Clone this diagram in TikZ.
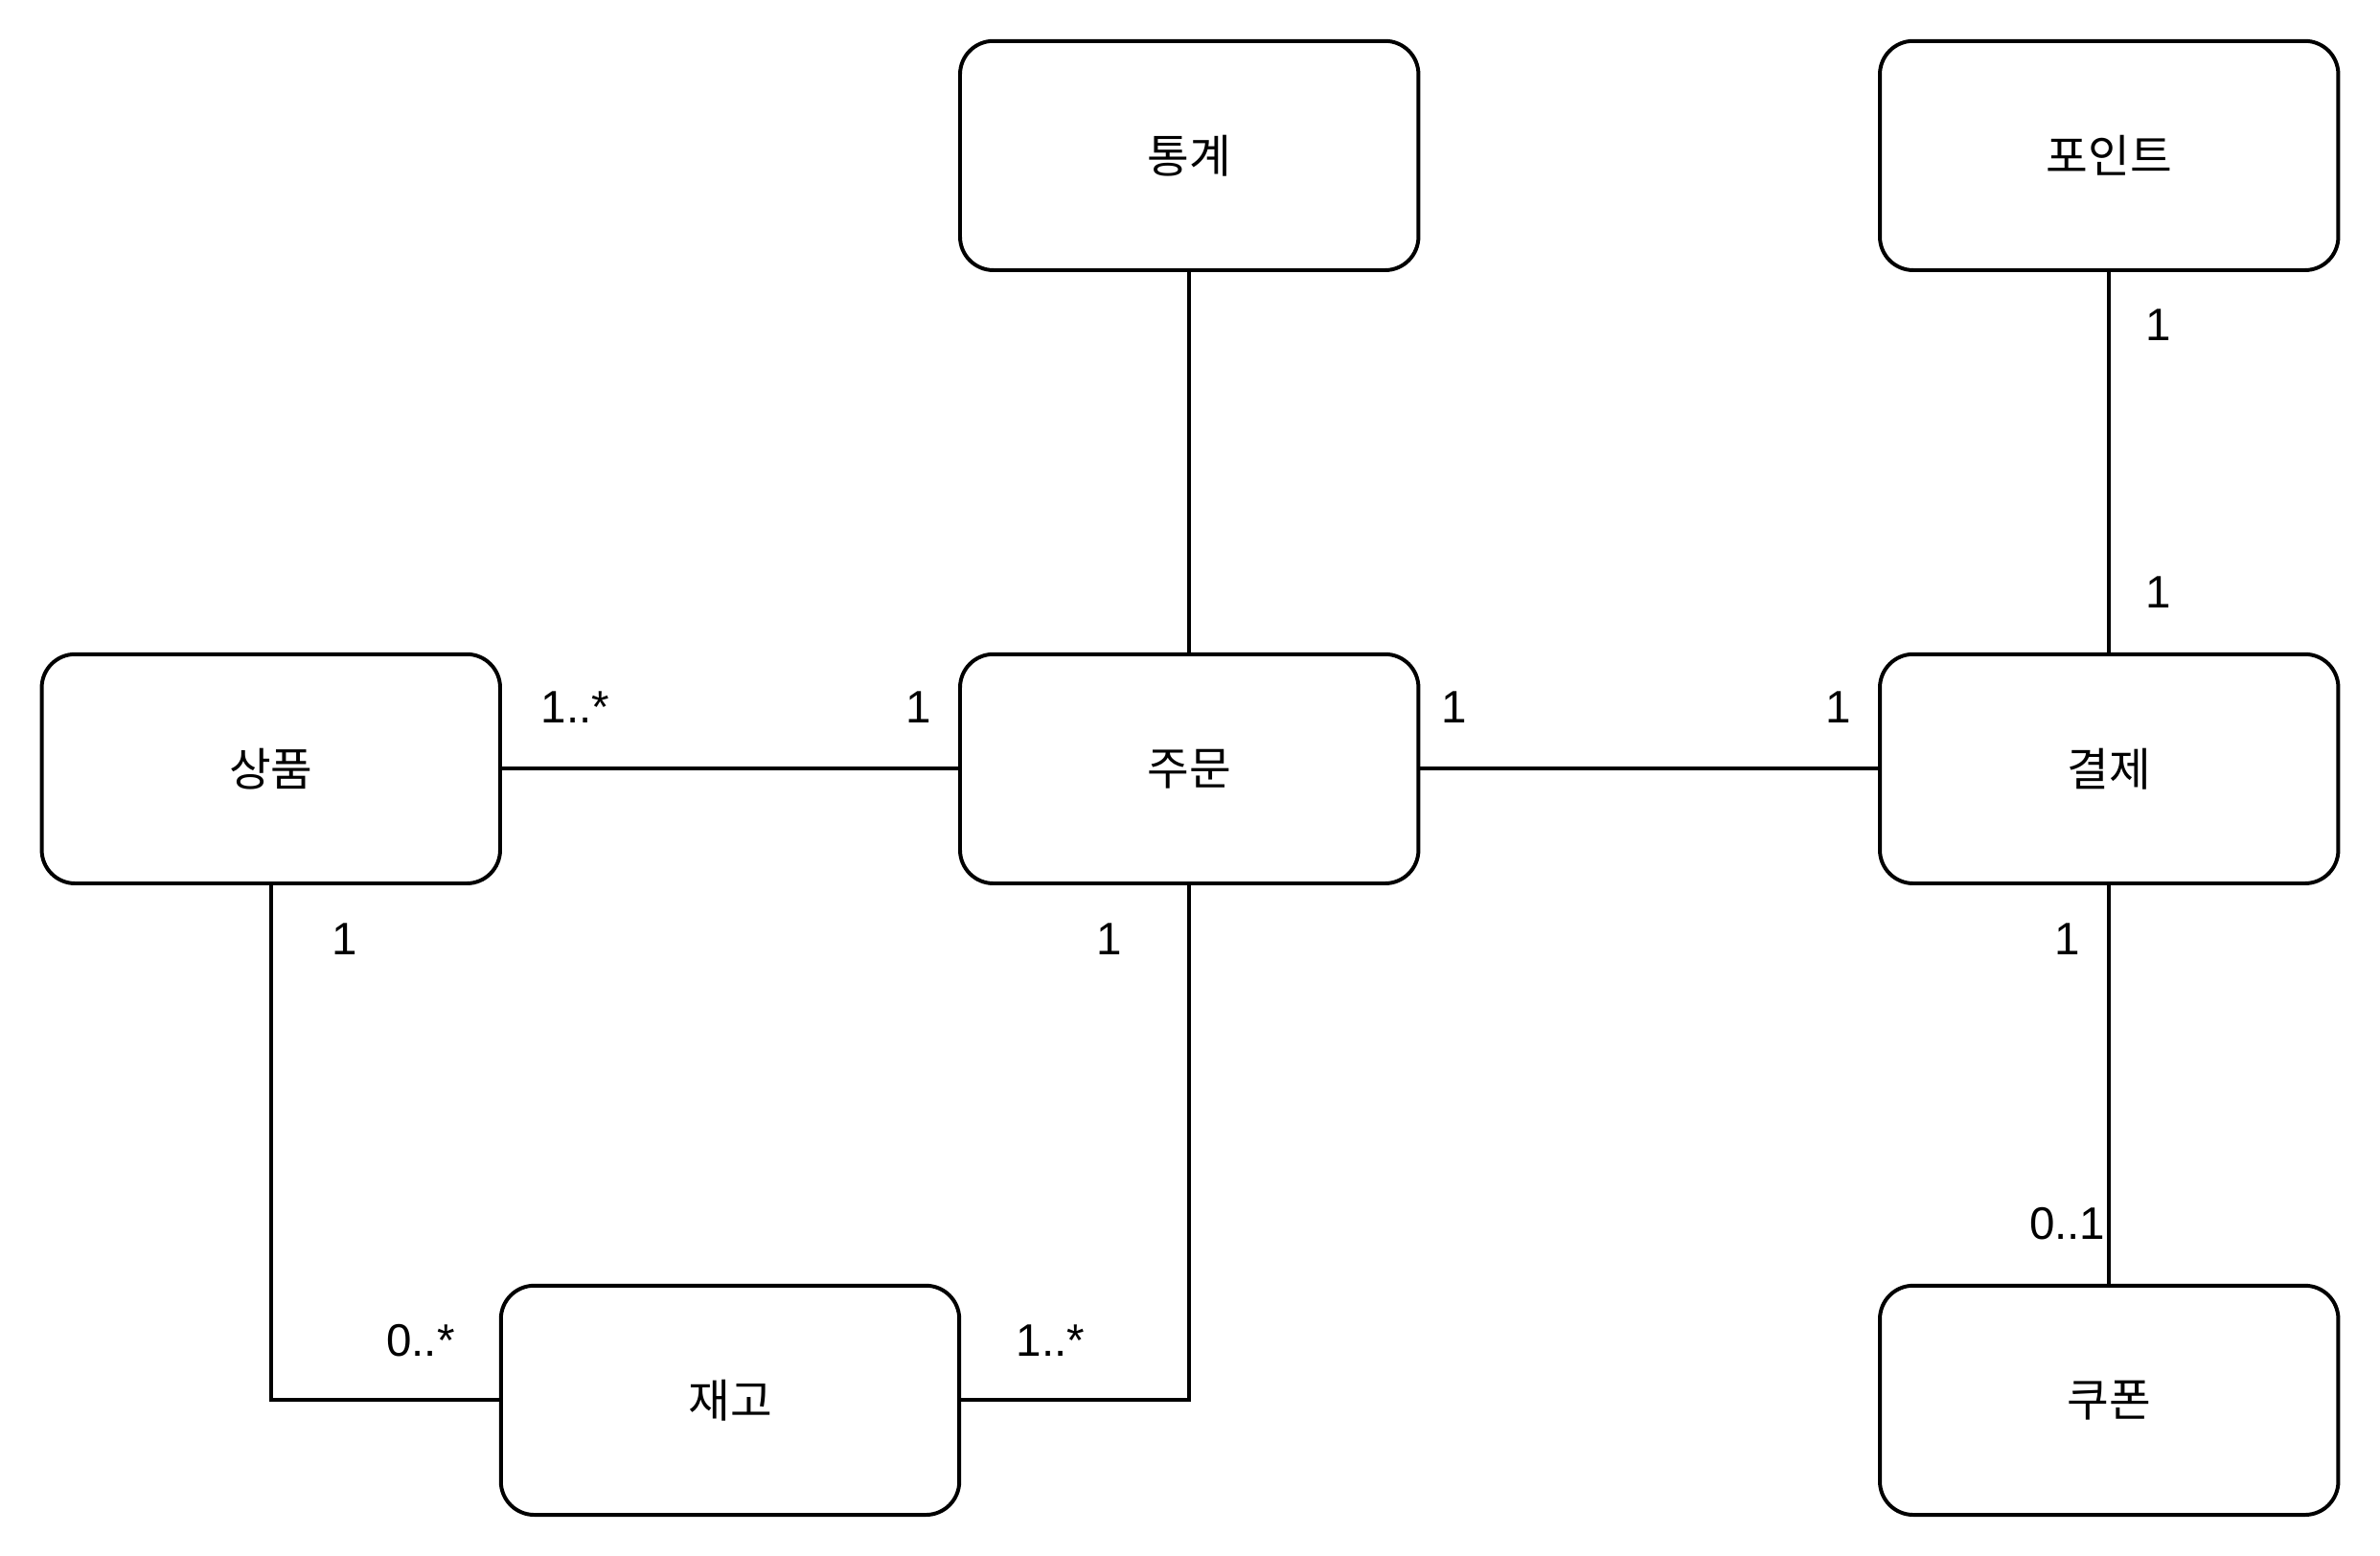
\documentclass[tikz,border=0pt]{standalone}
\usepackage{fontspec}
\setmainfont{Liberation Sans}
\newfontfamily\kr{Noto Sans CJK KR}
\usepackage{tikz}
\tikzstyle{link}=[line width=2.5pt]
\tikzstyle{entity}=[rectangle, draw, rounded corners=22pt,
                    line width=2.5pt, fill=white,
                    minimum width=302pt, minimum height=151pt,
                    inner sep=0pt, outer sep=0pt,
                    font=\kr\fontsize{30}{36}\selectfont]
\tikzstyle{mult}=[inner sep=0pt, font=\fontsize{30}{36}\selectfont]

\begin{document}
\begin{tikzpicture}[x=1pt, y=-1pt]
    \useasboundingbox (0,0) rectangle (1568,1025);
    \node (stat)   at (783.5,102.5)  [entity]{통계};
    \node (point)  at (1389.5,102.5) [entity]{포인트};
    \node (prod)   at (178.5,506.5)  [entity]{상품};
    \node (order)  at (783.5,506.5)  [entity]{주문};
    \node (pay)    at (1389.5,506.5) [entity]{결제};
    \node (stock)  at (481,922.5)    [entity]{재고};
    \node (coupon) at (1389.5,922.5) [entity]{쿠폰};

    \foreach \u/\v in {stat/order,point/pay,prod/order,order/pay,pay/coupon}
      \draw [link] (\u) to (\v);
    \draw [link] (prod.south) |- (stock.west);
    \draw [link] (order.south) |- (stock.east);

    % multiplicities
    \node (m1) at (379,466)   [mult]{1..*};
    \node (m2) at (605,466)   [mult]{1};
    \node (m3) at (958,466)   [mult]{1};
    \node (m4) at (1211,466)  [mult]{1};
    \node (m5) at (1422,214)  [mult]{1};
    \node (m6) at (1422,390)  [mult]{1};
    \node (m7) at (227,619)   [mult]{1};
    \node (m8) at (731,619)   [mult]{1};
    \node (m9) at (1362,619)  [mult]{1};
    \node (m10) at (1362,806) [mult]{0..1};
    \node (m11) at (277,883)  [mult]{0..*};
    \node (m12) at (692,883)  [mult]{1..*};
\end{tikzpicture}
\end{document}
